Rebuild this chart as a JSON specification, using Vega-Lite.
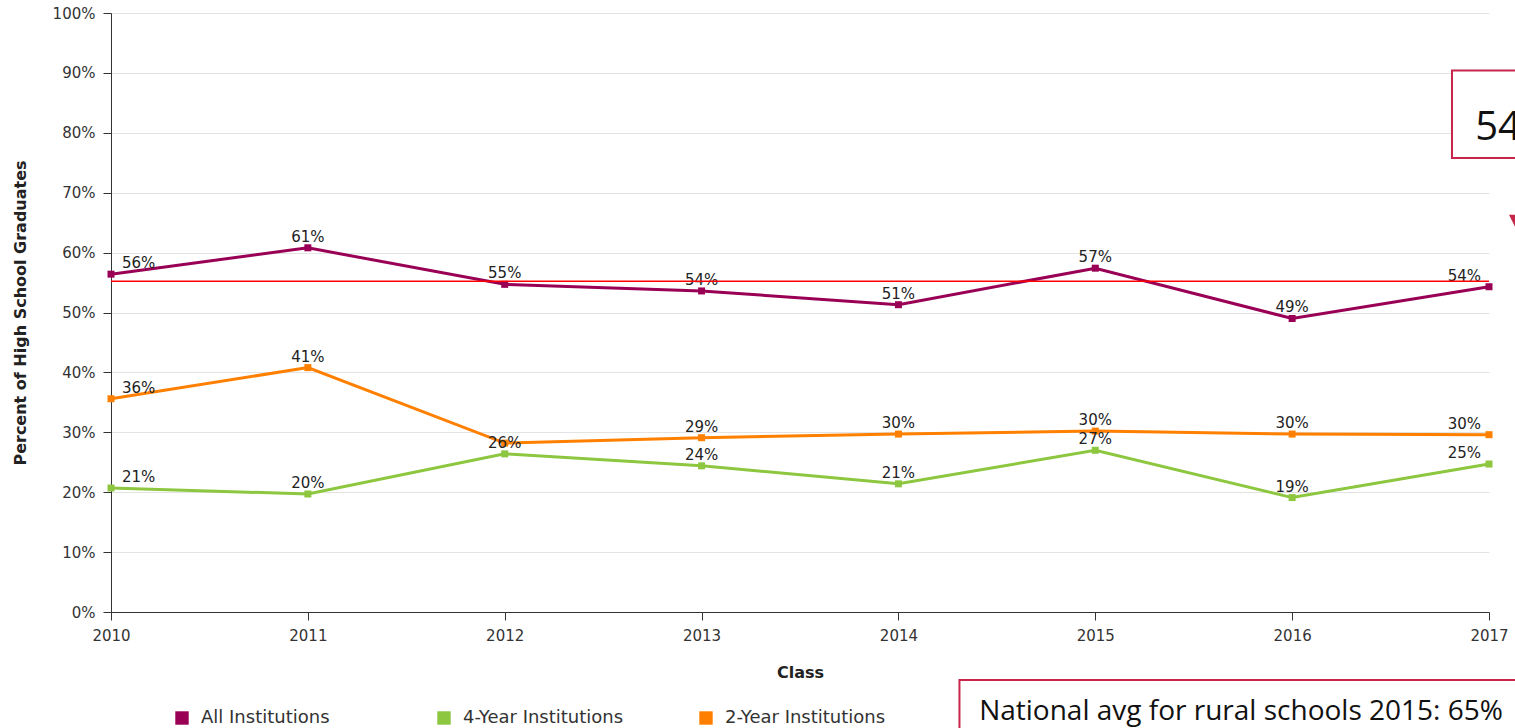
{
  "$schema": "https://vega.github.io/schema/vega-lite/v6.json",
  "width": 1378,
  "height": 599,
  "autosize": {"type": "none"},
  "padding": {"left": 111, "top": 13, "right": 26, "bottom": 116},
  "background": "white",
  "config": {
    "view": {"stroke": null},
    "font": "DejaVu Sans",
    "axis": {
      "labelFont": "DejaVu Sans",
      "labelFontSize": 15,
      "labelColor": "#333333",
      "domainColor": "#333333",
      "tickColor": "#333333",
      "tickSize": 8,
      "labelFlush": false,
      "titleFont": "DejaVu Sans",
      "titleFontSize": 16,
      "titleFontWeight": "bold",
      "titleColor": "#222222"
    }
  },
  "datasets": {
    "series": [
      {"year": 2010, "series": "All Institutions", "value": 56.4, "label": "56%"},
      {"year": 2011, "series": "All Institutions", "value": 60.8, "label": "61%"},
      {"year": 2012, "series": "All Institutions", "value": 54.7, "label": "55%"},
      {"year": 2013, "series": "All Institutions", "value": 53.6, "label": "54%"},
      {"year": 2014, "series": "All Institutions", "value": 51.3, "label": "51%"},
      {"year": 2015, "series": "All Institutions", "value": 57.4, "label": "57%"},
      {"year": 2016, "series": "All Institutions", "value": 49.0, "label": "49%"},
      {"year": 2017, "series": "All Institutions", "value": 54.3, "label": "54%"},
      {"year": 2010, "series": "4-Year Institutions", "value": 20.7, "label": "21%"},
      {"year": 2011, "series": "4-Year Institutions", "value": 19.7, "label": "20%"},
      {"year": 2012, "series": "4-Year Institutions", "value": 26.4, "label": "26%"},
      {"year": 2013, "series": "4-Year Institutions", "value": 24.4, "label": "24%"},
      {"year": 2014, "series": "4-Year Institutions", "value": 21.4, "label": "21%"},
      {"year": 2015, "series": "4-Year Institutions", "value": 27.0, "label": "27%"},
      {"year": 2016, "series": "4-Year Institutions", "value": 19.1, "label": "19%"},
      {"year": 2017, "series": "4-Year Institutions", "value": 24.7, "label": "25%"},
      {"year": 2010, "series": "2-Year Institutions", "value": 35.6, "label": "36%"},
      {"year": 2011, "series": "2-Year Institutions", "value": 40.8, "label": "41%"},
      {"year": 2012, "series": "2-Year Institutions", "value": 28.2, "label": ""},
      {"year": 2013, "series": "2-Year Institutions", "value": 29.1, "label": "29%"},
      {"year": 2014, "series": "2-Year Institutions", "value": 29.7, "label": "30%"},
      {"year": 2015, "series": "2-Year Institutions", "value": 30.2, "label": "30%"},
      {"year": 2016, "series": "2-Year Institutions", "value": 29.7, "label": "30%"},
      {"year": 2017, "series": "2-Year Institutions", "value": 29.6, "label": "30%"}
    ],
    "boxes": [
      {"x": 2016.812, "x2": 2017.4, "y": 90.4, "y2": 75.8},
      {"x": 2014.31, "x2": 2017.4, "y": -11.35, "y2": -25}
    ],
    "boxtext": [
      {"x": 2016.93, "y": 78.8, "text": "54%", "size": "big"},
      {"x": 2014.41, "y": -18.0, "text": "National avg for rural schools 2015: 65%", "size": "small"}
    ],
    "arrow": [{"x": 2017.132, "y": 65.3}],
    "avg": [{"y": 55.2}]
  },
  "layer": [
    {
      "data": {"name": "series"},
      "encoding": {
        "x": {
          "field": "year",
          "type": "quantitative",
          "title": "Class",
          "scale": {"domain": [2010, 2017], "nice": false, "zero": false},
          "axis": {
            "values": [2010, 2011, 2012, 2013, 2014, 2015, 2016, 2017],
            "format": "d",
            "grid": false,
            "labelPadding": 8,
            "titlePadding": 21
          }
        },
        "y": {
          "field": "value",
          "type": "quantitative",
          "title": "Percent of High School Graduates",
          "scale": {"domain": [0, 100], "nice": false},
          "axis": {
            "values": [0, 10, 20, 30, 40, 50, 60, 70, 80, 90, 100],
            "labelExpr": "datum.value + '%'",
            "grid": true,
            "gridColor": "#e3e3e3",
            "gridWidth": 1,
            "labelPadding": 8,
            "titlePadding": 24
          }
        },
        "color": {
          "field": "series",
          "type": "nominal",
          "scale": {
            "domain": ["All Institutions", "4-Year Institutions", "2-Year Institutions"],
            "range": ["#990055", "#8dc63f", "#ff8000"]
          },
          "legend": {
            "title": null,
            "orient": "none",
            "legendX": 62,
            "legendY": 696,
            "direction": "horizontal",
            "columns": 3,
            "gridAlign": "all",
            "columnPadding": 73,
            "symbolType": "square",
            "symbolSize": 180,
            "symbolStrokeWidth": 0,
            "labelFont": "DejaVu Sans",
            "labelFontSize": 18,
            "labelLimit": 400,
            "labelColor": "#333333",
            "labelOffset": 10,
            "padding": 0,
            "encode": {
              "symbols": {
                "update": {
                  "fill": {"scale": "color", "field": "value"},
                  "fillOpacity": {"value": 1},
                  "strokeWidth": {"value": 0}
                }
              }
            }
          }
        }
      },
      "layer": [
        {"mark": {"type": "line", "strokeWidth": 3}},
        {"mark": {"type": "point", "shape": "square", "filled": true, "size": 49, "opacity": 1}},
        {
          "transform": [{"filter": "datum.year == 2010"}],
          "mark": {"type": "text", "align": "left", "baseline": "alphabetic", "dx": 11, "dy": -6, "fontSize": 15, "font": "DejaVu Sans"},
          "encoding": {"text": {"field": "label"}, "color": {"value": "#222222"}}
        },
        {
          "transform": [{"filter": "datum.year > 2010 && datum.year < 2017"}],
          "mark": {"type": "text", "align": "center", "baseline": "alphabetic", "dy": -6, "fontSize": 15, "font": "DejaVu Sans"},
          "encoding": {"text": {"field": "label"}, "color": {"value": "#222222"}}
        },
        {
          "transform": [{"filter": "datum.year == 2017"}],
          "mark": {"type": "text", "align": "right", "baseline": "alphabetic", "dx": -8, "dy": -6, "fontSize": 15, "font": "DejaVu Sans"},
          "encoding": {"text": {"field": "label"}, "color": {"value": "#222222"}}
        }
      ]
    },
    {
      "data": {"name": "avg"},
      "mark": {"type": "rule", "strokeWidth": 1.5, "stroke": "#ff0000"},
      "encoding": {
        "y": {"field": "y", "type": "quantitative", "title": "Percent of High School Graduates"},
        "color": {"value": "#ff0000"}
      }
    },
    {
      "data": {"name": "boxes"},
      "mark": {"type": "rect", "fill": "white", "stroke": "#c8254a", "strokeWidth": 2, "clip": false},
      "encoding": {
        "x": {"field": "x", "type": "quantitative", "title": "Class"},
        "x2": {"field": "x2"},
        "y": {"field": "y", "type": "quantitative", "title": "Percent of High School Graduates"},
        "y2": {"field": "y2"}
      }
    },
    {
      "data": {"name": "boxtext"},
      "transform": [{"filter": "datum.size == 'big'"}],
      "mark": {"type": "text", "align": "left", "baseline": "alphabetic", "font": "Open Sans", "fontSize": 40, "clip": false},
      "encoding": {
        "x": {"field": "x", "type": "quantitative", "title": "Class"},
        "y": {"field": "y", "type": "quantitative", "title": "Percent of High School Graduates"},
        "text": {"field": "text"},
        "color": {"value": "#111111"}
      }
    },
    {
      "data": {"name": "boxtext"},
      "transform": [{"filter": "datum.size == 'small'"}],
      "mark": {"type": "text", "align": "left", "baseline": "alphabetic", "font": "Open Sans", "fontSize": 28, "clip": false},
      "encoding": {
        "x": {"field": "x", "type": "quantitative", "title": "Class"},
        "y": {"field": "y", "type": "quantitative", "title": "Percent of High School Graduates"},
        "text": {"field": "text"},
        "color": {"value": "#111111"}
      }
    },
    {
      "data": {"name": "arrow"},
      "mark": {"type": "point", "shape": "M-1,-1L1,-1L0,1Z", "filled": true, "size": 144, "opacity": 1, "clip": false},
      "encoding": {
        "x": {"field": "x", "type": "quantitative", "title": "Class"},
        "y": {"field": "y", "type": "quantitative", "title": "Percent of High School Graduates"},
        "color": {"value": "#c8254a"}
      }
    }
  ]
}
